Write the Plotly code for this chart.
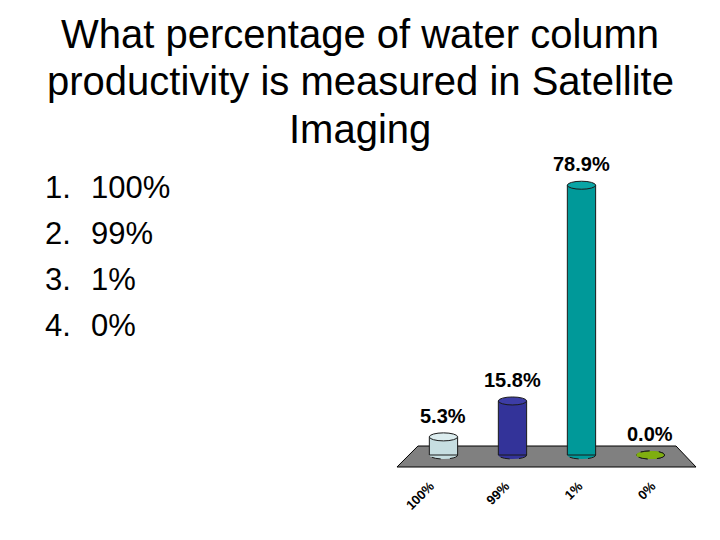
import plotly.graph_objects as go

# data
categories = ["100%", "99%", "1%", "0%"]
values = [5.3, 15.8, 78.9, 0.0]
colors = ["#C6DEE1", "#333399", "#009999", "#6A9A00"]
top_colors = ["#DCEDEF", "#3D3DA6", "#0AA5A5", "#7FAE10"]

title_lines = ["What percentage of water column",
               "productivity is measured in Satellite",
               "Imaging"]
answers = ["100%", "99%", "1%", "0%"]

FONT = "Liberation Sans, Arial, sans-serif"
bar_w = 0.41
ell = 1.17  # half height of ellipse in y units
label_nudge = [-0.19, -0.10, -0.04, 0.02]  # perspective of the category labels

# plot area in picture pixels, page body adds 8px margin
OFF = 8
L, R, T, B = 390, 705, 150, 475


def px(x):
    return (x - L) / (R - L)


def py(y):
    return (B - y) / (B - T)


xs = list(range(len(categories)))

fig = go.Figure()
fig.add_trace(go.Bar(
    x=xs, y=values, width=bar_w,
    marker=dict(color=colors, line=dict(color="#1a1a1a", width=1)),
    hoverinfo="skip"))

shapes = []
# floor
shapes.append(dict(type="path", xref="x", yref="y", layer="below",
                   path="M -0.37,2.63 L 3.37,2.63 L 3.66,-3.51 L -0.674,-3.51 Z",
                   fillcolor="#808080", line=dict(color="#000000", width=1)))
for i, v in enumerate(values):
    # bottom ellipse
    shapes.append(dict(type="circle", xref="x", yref="y", layer="below",
                       x0=i - bar_w / 2, x1=i + bar_w / 2, y0=-ell, y1=ell,
                       fillcolor=colors[i],
                       line=dict(color="#1a1a1a", width=1, dash="dash")))
    # top ellipse
    shapes.append(dict(type="circle", xref="x", yref="y", layer="above",
                       x0=i - bar_w / 2, x1=i + bar_w / 2, y0=v - ell, y1=v + ell,
                       fillcolor=top_colors[i],
                       line=dict(color="#1a1a1a", width=1,
                                 dash="dash" if v == 0 else "solid")))

annotations = []
for i, v in enumerate(values):
    annotations.append(dict(x=i, y=v, xref="x", yref="y", text="%.1f%%" % v,
                            showarrow=False, yanchor="bottom", yshift=8,
                            font=dict(family=FONT, size=20, color="black",
                                      weight="bold")))

# slide title
for k, line in enumerate(title_lines):
    annotations.append(dict(x=px(360), y=py(34 + 47.5 * k), xref="paper", yref="paper",
                            xanchor="center", yanchor="middle",
                            text=line, showarrow=False,
                            font=dict(family=FONT, size=40, color="black")))

# numbered list
for k, a in enumerate(answers):
    yy = py(187 + 46 * k)
    annotations.append(dict(x=px(43), y=yy, xref="paper", yref="paper",
                            text="%d." % (k + 1), showarrow=False,
                            xanchor="left", yanchor="middle",
                            font=dict(family=FONT, size=31, color="black")))
    annotations.append(dict(x=px(89), y=yy, xref="paper", yref="paper",
                            text=a, showarrow=False,
                            xanchor="left", yanchor="middle",
                            font=dict(family=FONT, size=31, color="black")))

fig.update_layout(
    width=720, height=540,
    margin=dict(l=L - OFF, r=720 - (R - OFF), t=T - OFF, b=540 - (B - OFF),
                autoexpand=False),
    paper_bgcolor="white", plot_bgcolor="white",
    showlegend=False,
    shapes=shapes,
    annotations=annotations,
    xaxis=dict(range=[-0.775, 3.79],
               tickvals=[x + d for x, d in zip(xs, label_nudge)],
               ticktext=categories,
               tickangle=-45, showgrid=False, zeroline=False, showline=False,
               ticks="", ticklabelstandoff=0, automargin=False,
               tickfont=dict(family=FONT, size=13, color="black", weight="bold")),
    yaxis=dict(range=[-5.85, 89.2], visible=False, automargin=False),
)

fig.write_html("out.html")
